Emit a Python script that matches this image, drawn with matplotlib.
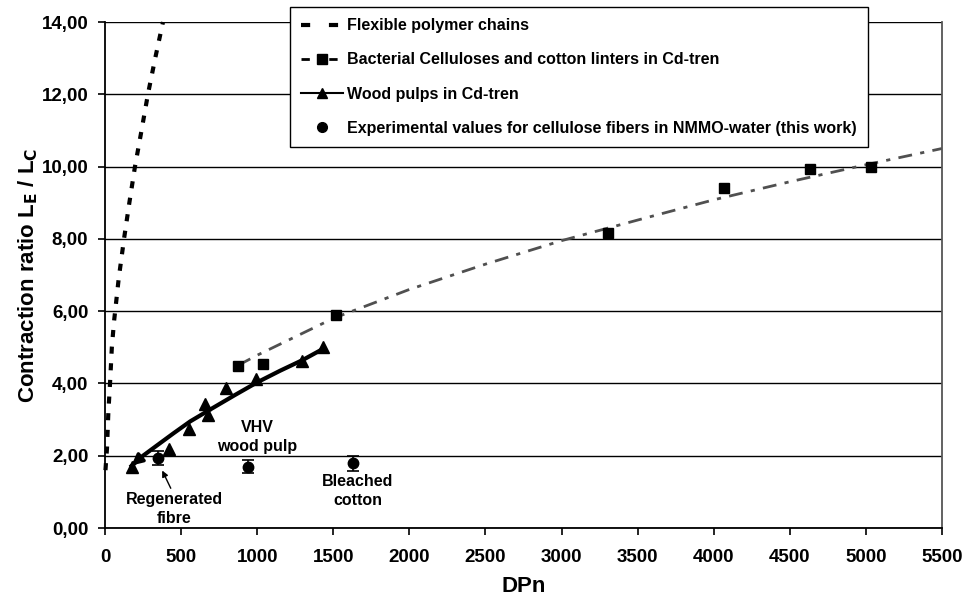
import matplotlib
matplotlib.use("Agg")
import matplotlib.pyplot as plt
from matplotlib.ticker import FuncFormatter, MultipleLocator

plt.rcParams['font.family'] = ['Liberation Sans', 'DejaVu Sans']
plt.rcParams['font.weight'] = 'bold'

# Flexible polymer chains (curve)
flex_dp = [3, 8, 13, 22, 33, 45, 59, 90, 125, 160, 197, 240, 282, 330, 381]
flex_y = [1.6, 1.9, 2.2, 3.2, 4.0, 5.0, 5.7, 6.9, 8.0, 9.0, 10.0, 11.0, 12.0, 13.0, 14.0]

# Bacterial celluloses and cotton linters in Cd-tren
bact_dp = [874, 1038, 1518, 3305, 4067, 4632, 5033]
bact_y = [4.47, 4.55, 5.90, 8.15, 9.40, 9.93, 9.98]
bact_fit_dp = [874, 1000, 1500, 2000, 2500, 3000, 3500, 4000, 4500, 5000, 5500]
bact_fit_y = [4.50, 4.78, 5.80, 6.60, 7.30, 7.95, 8.52, 9.08, 9.58, 10.05, 10.50]

# Wood pulps in Cd-tren
wood_dp = [175, 420, 552, 657, 679, 793, 990, 1296, 1434]
wood_y = [1.70, 2.18, 2.74, 3.43, 3.12, 3.86, 4.11, 4.62, 5.00]
wood_fit_dp = [175, 250, 340, 450, 560, 700, 850, 1000, 1150, 1300, 1430]
wood_fit_y = [1.72, 2.00, 2.28, 2.62, 2.95, 3.30, 3.67, 4.03, 4.35, 4.65, 4.95]

# Experimental values (this work)
exp_dp = [346, 942, 1632]
exp_y = [1.93, 1.69, 1.79]
exp_err = [0.20, 0.18, 0.20]

fig = plt.figure(figsize=(9.68, 6.03), dpi=100)
ax = fig.add_axes([105/968, 1-528/603, 837/968, 506/603])

ax.set_xlim(0, 5500)
ax.set_ylim(0, 14)
ax.yaxis.set_major_locator(MultipleLocator(2))
ax.xaxis.set_major_locator(MultipleLocator(500))
ax.yaxis.set_major_formatter(FuncFormatter(lambda v, p: f"{v:.2f}".replace('.', ',')))
ax.grid(axis='y', color='black', lw=1.0)
ax.set_axisbelow(True)
for s in ['left', 'bottom']:
    ax.spines[s].set_color('black')
    ax.spines[s].set_linewidth(1.3)
ax.spines['top'].set_visible(False)
ax.spines['right'].set_color('#555555')
ax.spines['right'].set_linewidth(1.3)
ax.tick_params(axis='both', direction='out', length=5, width=1.2, labelsize=13.5)
ax.tick_params(axis='x', pad=10)
ax.tick_params(axis='y', pad=7)
for lab in ax.get_xticklabels() + ax.get_yticklabels():
    lab.set_fontweight('bold')

ax.set_xlabel('DPn', fontsize=16, fontweight='bold', labelpad=7)
ax.set_ylabel('Contraction ratio L$_\\mathbf{E}$ / L$_\\mathbf{C}$', fontsize=16, fontweight='bold', labelpad=1)

# Flexible chains
ax.plot(flex_dp, flex_y, color='black', lw=3, dashes=(1.7, 2.3), clip_on=False)
h1, = ax.plot([], [], color='black', lw=3, dashes=(2.2, 4.5))

# Bacterial
ax.plot(bact_fit_dp, bact_fit_y, color='#505050', lw=2, dashes=(5, 3, 1.5, 3))
ax.plot(bact_dp, bact_y, 's', color='black', ms=7.5)
h2, = ax.plot([], [], color='black', lw=2, dashes=(3, 3, 1, 3), marker='s', ms=7)

# Wood pulps
ax.plot(wood_fit_dp, wood_fit_y, color='black', lw=3)
ax.annotate('', xy=(wood_fit_dp[0] - 15, wood_fit_y[0] - 0.04), xytext=(wood_fit_dp[1], wood_fit_y[1]),
            arrowprops=dict(arrowstyle='-|>', color='black', lw=2.5, mutation_scale=16))
ax.plot(wood_dp, wood_y, '^', color='black', ms=8.5)
h3, = ax.plot([], [], color='black', lw=1.5, marker='^', ms=7)

# Experimental
ax.errorbar(exp_dp, exp_y, yerr=exp_err, fmt='o', color='black', ms=7.5, capsize=4, elinewidth=1.2, capthick=1.2)
h4, = ax.plot([], [], 'o', color='black', ms=7)

# Annotations
ax.text(1000, 2.52, 'VHV\nwood pulp', ha='center', va='center', fontsize=11.5, fontweight='bold', linespacing=1.35)
ax.text(1662, 1.03, 'Bleached\ncotton', ha='center', va='center', fontsize=11.5, fontweight='bold', linespacing=1.35)
ax.text(453, 0.52, 'Regenerated\nfibre', ha='center', va='center', fontsize=11.5, fontweight='bold', linespacing=1.35)
ax.annotate('', xy=(368, 1.66), xytext=(440, 1.03),
            arrowprops=dict(arrowstyle='-|>', color='black', lw=1.0, mutation_scale=9))

leg = ax.legend([h1, h2, h3, h4],
                ['Flexible polymer chains',
                 'Bacterial Celluloses and cotton linters in Cd-tren',
                 'Wood pulps in Cd-tren',
                 'Experimental values for cellulose fibers in NMMO-water (this work)'],
                loc='upper left', bbox_to_anchor=(290/968, 1-7/603), bbox_transform=fig.transFigure,
                borderaxespad=0, fancybox=False, framealpha=1, edgecolor='black', handlelength=2.6,
                labelspacing=1.2, borderpad=0.7, handletextpad=0.25,
                prop={'weight': 'bold', 'size': 11.5})
leg.get_frame().set_linewidth(1.0)

fig.savefig('out.png', dpi=100)
